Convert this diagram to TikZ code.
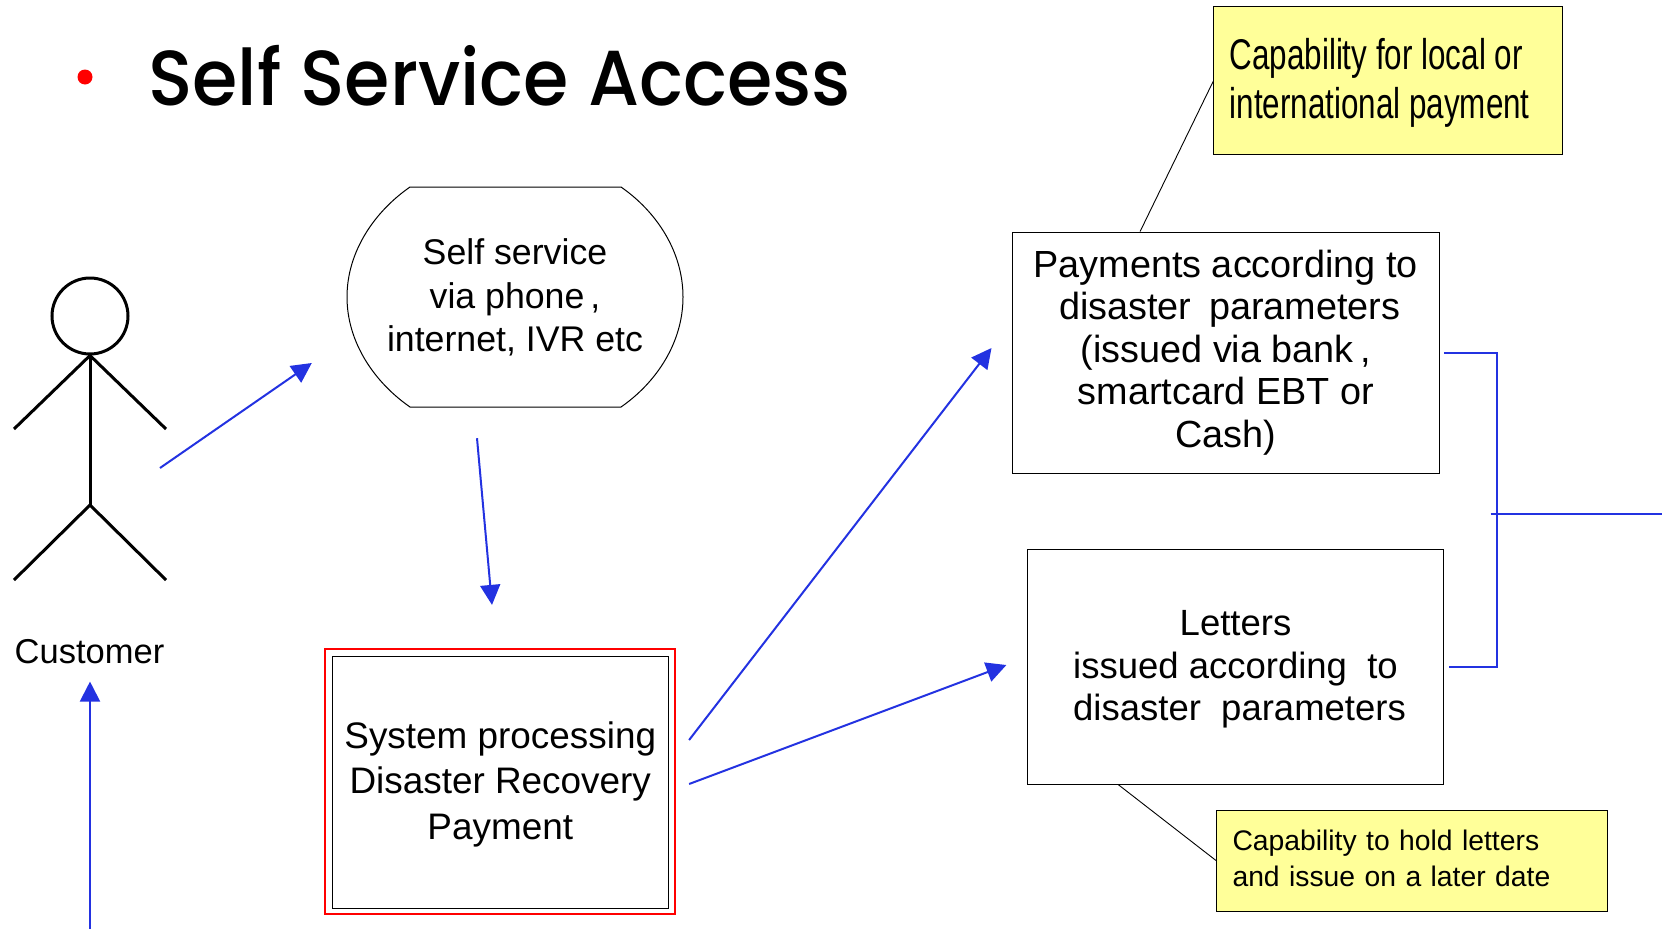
\documentclass[tikz,border=0pt]{standalone}
\usepackage{fontspec}
\setmainfont{Liberation Sans}
\newfontfamily\narrowf[FakeStretch=0.73]{Liberation Sans}
\newfontfamily\titlef{Poppins Medium}
\usetikzlibrary{arrows.meta,calc}
\definecolor{flowblue}{RGB}{35,50,225}
\definecolor{noteyellow}{RGB}{255,255,153}
\tikzset{
  flow/.style={draw=flowblue,line width=2pt},
  flowarrow/.style={flow,-{Triangle[length=20pt,width=20pt,fill=flowblue]}},
  limb/.style={draw=black,line width=3pt},
  thinline/.style={draw=black,line width=0.9pt},
  boxnode/.style={draw=black,line width=1pt,align=center,inner sep=0pt,anchor=center},
  note/.style={draw=black,line width=1pt,fill=noteyellow,align=left,inner ysep=0pt,inner xsep=16pt,anchor=center},
}
\begin{document}
\begin{tikzpicture}[x=1pt,y=-1pt]
\useasboundingbox (0,0) rectangle (1662,929);
% title
\node[circle,fill=red,inner sep=0pt,minimum size=15pt] (bullet) at (85,77) {};
\node[anchor=base west,inner sep=0pt] (title) at (148,105) {\titlef\fontsize{78}{90}\selectfont\scalebox{0.94}[1]{Self Service Access}};
% stick figure
\node[circle,limb,fill=white,inner sep=0pt,minimum size=76pt] (head) at (90,316) {};
\coordinate (hip) at (90,505);
\coordinate (handl) at (14,429);
\coordinate (handr) at (166,429);
\coordinate (footl) at (14,580);
\coordinate (footr) at (166,580);
\draw[limb] (head.south) -- (hip);
\draw[limb] (handl) -- (head.south) -- (handr);
\draw[limb] (footl) -- (hip) -- (footr);
\node[anchor=base,inner sep=0pt,font=\fontsize{34.5}{40}\selectfont] (customer) at (89.5,663) {Customer};
\coordinate (upstart) at (90,929);
\draw[flowarrow] (upstart) -- ($(customer.south)+(0.5,18)$);
% self service
\node[align=center,inner sep=0pt,minimum width=336pt,minimum height=220pt,font=\fontsize{35.7}{43.5}\selectfont] (self) at (515,297) {\rule{0pt}{27pt}Self service\\via phone\,,\\internet, IVR etc};
\draw[line width=1pt] (410,187) -- (621,187) .. controls (657,212) and (683,252) .. (683,297) .. controls (683,342) and (657,382) .. (621,407) -- (410,407) .. controls (374,382) and (347,342) .. (347,297) .. controls (347,252) and (374,212) .. (410,187) -- cycle;
% system
\node[boxnode,draw=red,line width=2.2pt,minimum width=350pt,minimum height=265pt] (sysred) at (500,781.5) {};
\node[boxnode,minimum width=336.5pt,minimum height=252pt,font=\fontsize{36.9}{45.5}\selectfont] (sys) at (500.25,782) {\rule{0pt}{31pt}System processing\\Disaster Recovery\\Payment};
% payments and letters
\node[boxnode,minimum width=427.4pt,minimum height=241pt,font=\fontsize{37.8}{42.5}\selectfont] (pay) at (1225.7,352.5) {Payments according to\\\hspace*{8pt}disaster\hspace{0.47em}parameters\\(issued via bank\,,\\smartcard EBT or\\Cash)};
\node[boxnode,minimum width=416.2pt,minimum height=235pt,font=\fontsize{36.5}{42.5}\selectfont] (letters) at (1235.5,666.5) {\rule{0pt}{31pt}Letters\\issued according\ \ to\\\hspace*{8pt}disaster\ \ parameters};
% notes
\node[note,minimum height=148pt,text width=316.4pt,font=\narrowf\fontsize{43}{49}\selectfont] (note1) at (1387.8,80) {\spaceskip=8.7pt\relax\rule{0pt}{37pt}Capability for local or\\international payment};
\node[note,minimum height=101pt,text width=358.5pt,font=\fontsize{28.3}{36}\selectfont] (note2) at (1411.75,860.5) {Capability to hold letters\\and issue on a later date\rule[-4pt]{0pt}{4pt}};
\draw[thinline] ($(pay.north west)+(128.6,0)$) -- ($(note1.south west)+(0,-73)$);
\draw[thinline] ($(letters.south west)+(91.2,0)$) -- ($(note2.south west)+(0,-51)$);
% flow arrows
\draw[flowarrow] ($(hip)+(70,-37)$) -- ($(self.west)+(-35,66)$);
\draw[flowarrow] ($(self.south)+(-38,31)$) -- ($(sysred.north)+(-8,-43)$);
\draw[flowarrow] ($(sysred.east)+(13,-41.5)$) -- ($(pay.west)+(-20,-4.5)$);
\draw[flowarrow] ($(sysred.east)+(13,2.5)$) -- ($(letters.west)+(-20.5,-1.5)$);
% bracket
\coordinate (exit) at (1662,514);
\coordinate (busv) at (1497,514);
\draw[flow,line join=miter] ($(pay.east)+(4,0)$) -| (busv) |- ($(letters.east)+(4.5,0)$);
\draw[flow] ($(busv)+(-6.5,0)$) -- (exit);
\end{tikzpicture}
\end{document}
